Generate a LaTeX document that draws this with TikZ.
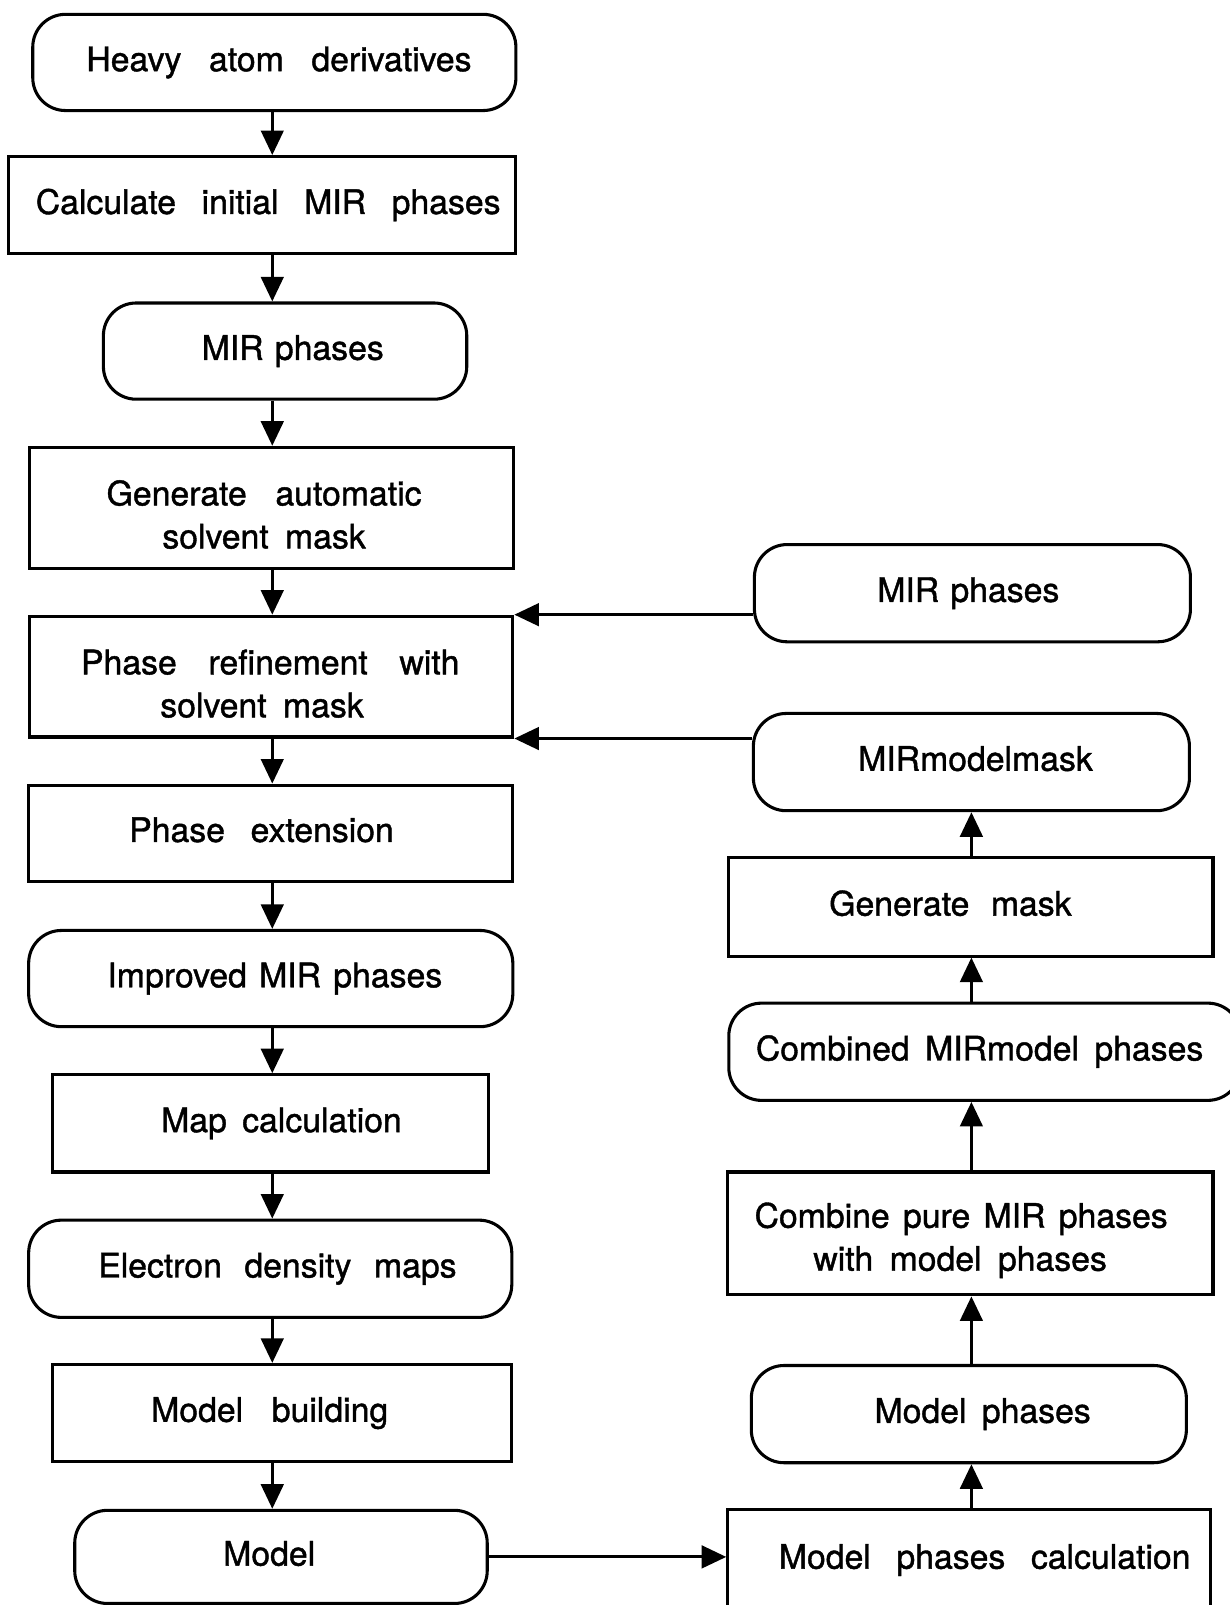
\documentclass[tikz,border=0pt]{standalone}
\usepackage{fontspec}
\setmainfont{TeX Gyre Heros}[FakeBold=1.2]
\usetikzlibrary{arrows.meta}
\newcommand{\wsp}[1]{\hspace{#1pt}}
\newcommand{\shft}[2]{\hspace*{#1pt}#2\hspace*{-#1pt}}
\tikzset{
  base/.style={draw, line width=3pt, inner sep=0pt, font=\fontsize{33}{42}\selectfont},
  rbox/.style={base, rounded corners=32pt},
  sbox/.style={base},
  one/.style={text height=24pt, text depth=7pt},
  two/.style={align=center},
  arr/.style={line width=3pt, -{Triangle[length=24pt,width=22pt]}}
}
\begin{document}
\begin{tikzpicture}[x=1pt,y=-1pt]
\useasboundingbox (0,0) rectangle (1201,1568);
\coordinate (sp) at (266,0);
\coordinate (rs) at (949,0);
% left column
\node[rbox,one,minimum width=472,minimum height=94] (A) at (268,61) {\shft{4.5}{Heavy\wsp{27}atom\wsp{27}derivatives}};
\node[sbox,one,minimum width=496,minimum height=95] (B) at (256,200.5) {\shft{6}{Calculate\wsp{25}initial\wsp{25}MIR\wsp{25}phases}};
\node[rbox,one,minimum width=355,minimum height=94] (C) at (278.5,343) {\shft{7.5}{MIR\wsp{11}phases}};
\node[sbox,two,minimum width=473,minimum height=118] (D) at (265.5,496) {\rule{0pt}{38pt}\shft{-7.5}{Generate\wsp{28}automatic}\\\shft{-7.5}{solvent\wsp{16}mask}};
\node[sbox,two,minimum width=472,minimum height=118] (E) at (265,661) {\rule{0pt}{38pt}\shft{-1}{Phase\wsp{31}refinement\wsp{31}with}\\\shft{-9}{solvent\wsp{16}mask}};
\node[sbox,one,minimum width=473,minimum height=94] (F) at (264.5,814) {\shft{-9}{Phase\wsp{25}extension}};
\node[rbox,one,minimum width=473,minimum height=94] (G) at (264.5,956) {\shft{4}{Improved\wsp{12}MIR\wsp{12}phases}};
\node[sbox,one,minimum width=426,minimum height=95] (H) at (264,1097.5) {\shft{11}{Map\wsp{15}calculation}};
\node[rbox,one,minimum width=472,minimum height=95] (I) at (264,1239.5) {\shft{7}{Electron\wsp{22}density\wsp{22}maps}};
\node[sbox,one,minimum width=449,minimum height=95] (J) at (275.5,1380.5) {\shft{-12}{Model\wsp{28}building}};
\node[rbox,one,minimum width=403,minimum height=91] (K) at (274.5,1521) {\shft{-11.5}{Model}};
% right column
\node[rbox,one,minimum width=426,minimum height=95] (R1) at (950,579.5) {\shft{-4}{MIR\wsp{11}phases}};
\node[rbox,one,minimum width=426,minimum height=95] (R2) at (949,744.5) {\shft{4}{MIRmodelmask}};
\node[sbox,one,minimum width=473,minimum height=96] (R3) at (948.5,886) {\shft{-20}{Generate\wsp{21}mask}};
\node[rbox,one,minimum width=500,minimum height=95] (R4) at (962,1027.5) {\shft{-5}{Combined\wsp{15}MIRmodel\wsp{15}phases}};
\node[sbox,two,minimum width=474,minimum height=120] (R5) at (948,1205) {\rule{0pt}{38pt}\shft{-9}{Combine\wsp{13}pure\wsp{13}MIR\wsp{13}phases}\\\shft{-10}{with\wsp{16}model\wsp{16}phases}};
\node[rbox,one,minimum width=425,minimum height=95] (R6) at (946.5,1381.5) {\shft{13.5}{Model\wsp{15}phases}};
\node[sbox,one,minimum width=472,minimum height=98] (R7) at (947,1524) {\shft{15}{Model\wsp{25}phases\wsp{25}calculation}};
% left arrows
\draw[arr] (A.south -| sp) -- (B.north -| sp);
\draw[arr] (B.south -| sp) -- (C.north -| sp);
\draw[arr] (C.south -| sp) -- (D.north -| sp);
\draw[arr] (D.south -| sp) -- (E.north -| sp);
\draw[arr] (E.south -| sp) -- (F.north -| sp);
\draw[arr] (F.south -| sp) -- (G.north -| sp);
\draw[arr] (G.south -| sp) -- (H.north -| sp);
\draw[arr] (H.south -| sp) -- (I.north -| sp);
\draw[arr] (I.south -| sp) -- (J.north -| sp);
\draw[arr] (J.south -| sp) -- (K.north -| sp);
% right arrows
\draw[arr] (R7.north -| rs) -- (R6.south -| rs);
\draw[arr] (R6.north -| rs) -- (R5.south -| rs);
\draw[arr] (R5.north -| rs) -- (R4.south -| rs);
\draw[arr] (R4.north -| rs) -- (R3.south -| rs);
\draw[arr] (R3.north -| rs) -- (R2.south -| rs);
% horizontal arrows
\draw[arr] (R1.west |- E.north east) -- (E.north east);
\draw[arr] (R2.west |- E.south east) -- (E.south east);
\draw[arr] (K.east) -- (K.east -| R7.west);
\end{tikzpicture}
\end{document}
